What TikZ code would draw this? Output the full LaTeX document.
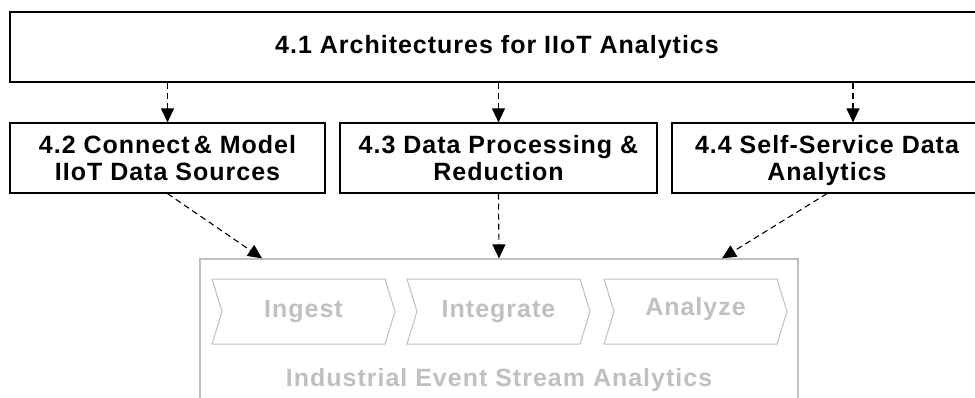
\documentclass[tikz,border=0pt]{standalone}
\usepackage{fontspec}
\setmainfont{Liberation Sans}
\newfontfamily\labelfont[LetterSpace=4]{Liberation Sans}
\usetikzlibrary{arrows.meta}
\definecolor{lightgrey}{RGB}{192,192,192}

% one chevron of the pipeline: name, left x, label, vertical text offset
\newcommand{\pipestage}[4]{%
  \draw[stage] (#2,279) -- ++(173,0) -- ++(10,32.5) -- ++(-10,32.5)
    -- ++(-173,0) -- ++(10,-32.5) -- cycle;
  \node[stagetext] (#1) at (#2+91.5,311.5+#4) {#3};
}

\begin{document}
\begin{tikzpicture}[x=1pt,y=-1pt,
  topic/.style={draw=black, line width=1.2pt, fill=white, align=center,
    font=\labelfont\bfseries\fontsize{25}{27}\selectfont, inner sep=0pt},
  subtopic/.style={topic, minimum height=70pt, text depth=0pt},
  link/.style={draw=black, line width=1.1pt, dash pattern=on 6pt off 4pt,
    -{Triangle[length=14pt,width=13pt]}},
  stage/.style={draw=lightgrey, line width=1pt},
  stagetext/.style={text=lightgrey, font=\labelfont\bfseries\fontsize{25}{27}\selectfont,
    inner sep=0pt}]
\useasboundingbox (0,0) rectangle (975,397);

% overall architecture box
\node[topic, minimum width=974pt, minimum height=70pt] (arch) at (497,47)
  {4.1 Architectures for IIoT Analytics};

% the three contributions
\node[subtopic, minimum width=315pt] (conn) at (167.5,158)
  {4.2 Connect\,\& Model\\IIoT Data Sources};
\node[subtopic, minimum width=317pt] (proc) at (498.5,158)
  {4.3 Data Processing \&\\Reduction};
\node[subtopic, minimum width=310pt] (self) at (827,158)
  {4.4 Self-Service Data\\Analytics};

% event stream analytics container
\node[draw=lightgrey, line width=1.3pt, minimum width=598pt, minimum height=150pt,
  inner sep=0pt] (iesa) at (499,334) {};
\pipestage{ingest}{212}{Ingest}{0}
\pipestage{integrate}{407}{Integrate}{0}
\pipestage{analyze}{604}{Analyze}{-2}
\node[stagetext] (iesalabel) at (499,380) {Industrial Event Stream Analytics};

% dependencies
\draw[link] (conn.north |- arch.south) -- (conn.north);
\draw[link] (proc.north |- arch.south) -- (proc.north);
\draw[link] ([xshift=26pt]self.north |- arch.south) -- ([xshift=26pt]self.north);

\draw[link] (conn.south) -- ([xshift=-237pt]iesa.north);
\draw[link] (proc.south) -- (iesa.north);
\draw[link] (self.south) -- ([xshift=223pt]iesa.north);
\end{tikzpicture}
\end{document}
